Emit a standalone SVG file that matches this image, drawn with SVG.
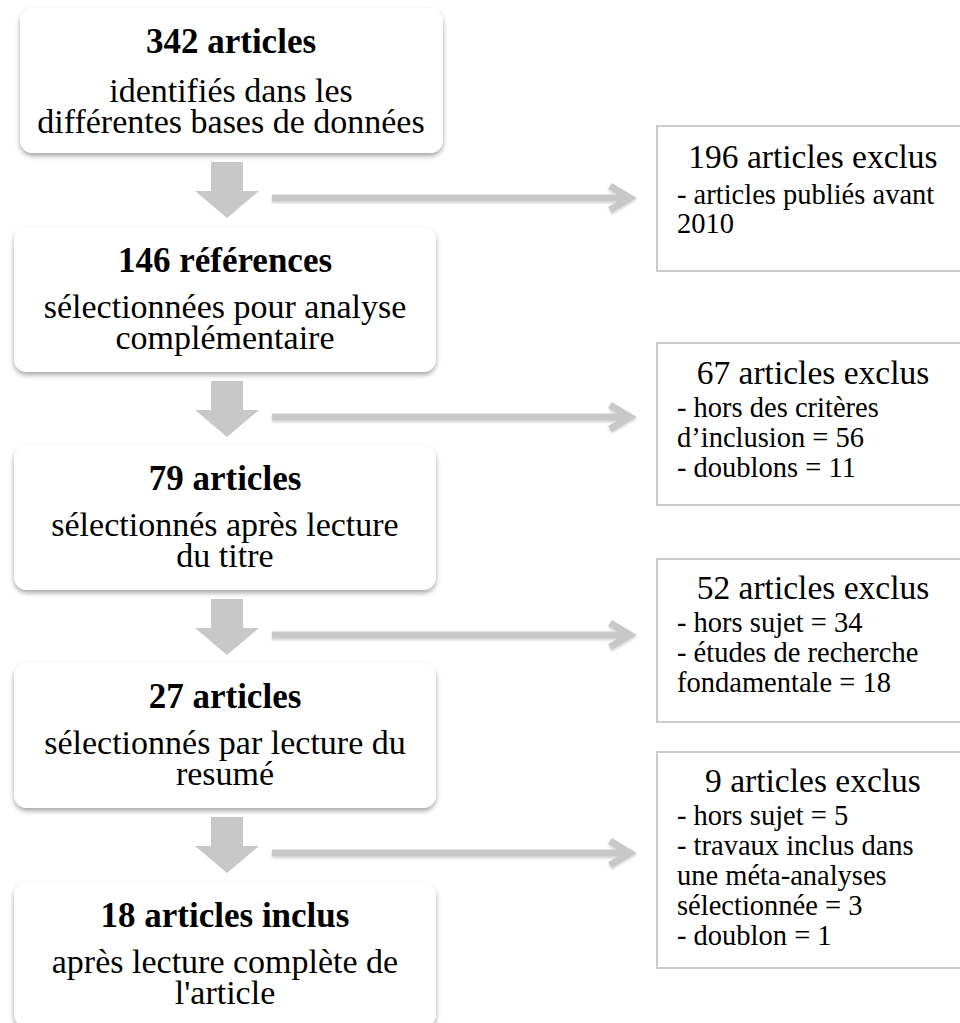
<svg xmlns="http://www.w3.org/2000/svg" width="960" height="1023" viewBox="0 0 960 1023">
  <defs>
    <filter id="sh" x="-5%" y="-10%" width="110%" height="125%">
      <feDropShadow dx="0" dy="3" stdDeviation="2.5" flood-color="#000" flood-opacity="0.35"/>
    </filter>
    <filter id="soft" x="-5%" y="-50%" width="110%" height="200%">
      <feDropShadow dx="0" dy="1.5" stdDeviation="1.2" flood-color="#000" flood-opacity="0.2"/>
    </filter>
  </defs>
  <style>
    .box { fill: #ffffff; filter: url(#sh); }
    .xbox { fill: #ffffff; stroke: #cbcbcb; stroke-width: 2; }
    .title { font-family: "Liberation Serif", serif; font-weight: bold; font-size: 35px; fill: #000; text-anchor: middle; }
    .body { font-family: "Liberation Serif", serif; font-size: 34px; fill: #000; text-anchor: middle; }
    .xhead { font-family: "Liberation Serif", serif; font-size: 33.5px; fill: #000; text-anchor: middle; }
    .xbody { font-family: "Liberation Serif", serif; font-size: 28.5px; fill: #000; }
    .down { fill: #c8c8c8; }
    .side { fill: none; stroke: #c8c8c8; stroke-width: 7; stroke-linejoin: miter; filter: url(#soft); }
  </style>
  <rect width="960" height="1023" fill="#ffffff"/>

  <g id="connectors">
    <polygon class="down" points="211,162 243,162 243,191 259,191 227,218 195,191 211,191"/>
    <polygon class="down" points="211,381 243,381 243,410 259,410 227,437 195,410 211,410"/>
    <polygon class="down" points="211,599 243,599 243,628 259,628 227,655 195,628 211,628"/>
    <polygon class="down" points="211,817 243,817 243,846 259,846 227,873 195,846 211,846"/>
    <path class="side" d="M272,198 H627 M610,186 L630,198 L610,210"/>
    <path class="side" d="M272,417 H627 M610,405 L630,417 L610,429"/>
    <path class="side" d="M272,635 H627 M610,623 L630,635 L610,647"/>
    <path class="side" d="M272,853 H627 M610,841 L630,853 L610,865"/>
  </g>

  <g id="n1">
    <rect class="box" x="20" y="8" width="423" height="145" rx="13"/>
    <text class="title" x="231" y="53">342 articles</text>
    <text class="body" x="231" y="102">identifiés dans les</text>
    <text class="body" x="231" y="133">différentes bases de données</text>
  </g>
  <g id="n2">
    <rect class="box" x="14" y="227" width="422" height="145" rx="13"/>
    <text class="title" x="225" y="272">146 références</text>
    <text class="body" x="225" y="318">sélectionnées pour analyse</text>
    <text class="body" x="225" y="349">complémentaire</text>
  </g>
  <g id="n3">
    <rect class="box" x="14" y="445" width="422" height="145" rx="13"/>
    <text class="title" x="225" y="490">79 articles</text>
    <text class="body" x="225" y="536">sélectionnés après lecture</text>
    <text class="body" x="225" y="567">du titre</text>
  </g>
  <g id="n4">
    <rect class="box" x="14" y="663" width="422" height="145" rx="13"/>
    <text class="title" x="225" y="708">27 articles</text>
    <text class="body" x="225" y="754">sélectionnés par lecture du</text>
    <text class="body" x="225" y="785">resumé</text>
  </g>
  <g id="n5">
    <rect class="box" x="14" y="882" width="422" height="145" rx="13"/>
    <text class="title" x="225" y="927">18 articles inclus</text>
    <text class="body" x="225" y="973">après lecture complète de</text>
    <text class="body" x="225" y="1004">l'article</text>
  </g>

  <g id="x1">
    <rect class="xbox" x="657" y="126" width="320" height="145"/>
    <text class="xhead" x="813" y="168">196 articles exclus</text>
    <text class="xbody" x="677" y="204">- articles publiés avant</text>
    <text class="xbody" x="677" y="233">2010</text>
  </g>
  <g id="x2">
    <rect class="xbox" x="657" y="343" width="320" height="162"/>
    <text class="xhead" x="813" y="384">67 articles exclus</text>
    <text class="xbody" x="677" y="417">- hors des critères</text>
    <text class="xbody" x="677" y="447">d’inclusion = 56</text>
    <text class="xbody" x="677" y="477">- doublons = 11</text>
  </g>
  <g id="x3">
    <rect class="xbox" x="657" y="559" width="320" height="163"/>
    <text class="xhead" x="813" y="599">52 articles exclus</text>
    <text class="xbody" x="677" y="632">- hors sujet = 34</text>
    <text class="xbody" x="677" y="662">- études de recherche</text>
    <text class="xbody" x="677" y="692">fondamentale = 18</text>
  </g>
  <g id="x4">
    <rect class="xbox" x="657" y="752" width="320" height="216"/>
    <text class="xhead" x="813" y="792">9 articles exclus</text>
    <text class="xbody" x="677" y="825">- hors sujet = 5</text>
    <text class="xbody" x="677" y="855">- travaux inclus dans</text>
    <text class="xbody" x="677" y="885">une méta-analyses</text>
    <text class="xbody" x="677" y="915">sélectionnée = 3</text>
    <text class="xbody" x="677" y="945">- doublon = 1</text>
  </g>
</svg>
